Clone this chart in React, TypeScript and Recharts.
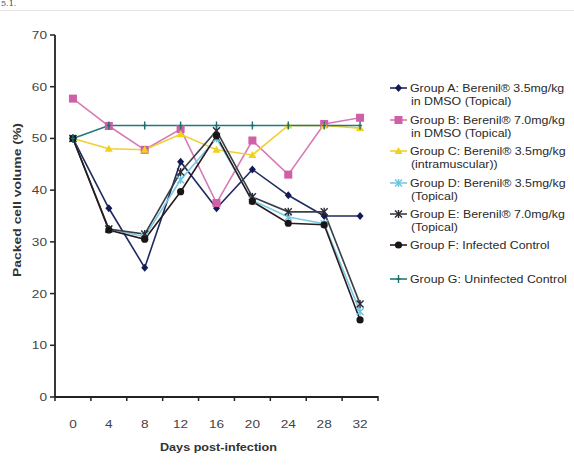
import React from "react";
import { LineChart, Line, XAxis, YAxis } from "recharts";

const days = [0, 4, 8, 12, 16, 20, 24, 28, 32];
const groupA = [50, 36.5, 25, 45.5, 36.5, 44, 39, 35, 35];
const groupB = [57.7, 52.4, 47.8, 51.8, 37.5, 49.6, 43, 52.8, 54];
const groupC = [50, 48, 47.8, 50.8, 47.8, 46.8, 52.5, 52.5, 52];
const groupD = [50, 32.5, 31, 42, 50, 38, 34.8, 33.5, 16.5];
const groupE = [50, 32.5, 31.5, 43.5, 51.5, 38.7, 35.8, 35.8, 18];
const groupF = [50, 32.3, 30.5, 39.7, 50.5, 37.8, 33.6, 33.3, 14.9];
const groupG = [50, 52.5, 52.5, 52.5, 52.5, 52.5, 52.5, 52.5, 52.5];
const yTicks = [0, 10, 20, 30, 40, 50, 60, 70];
const xTicks = [-2, 0, 2, 4, 6, 8, 10, 12, 14, 16, 18, 20, 22, 24, 26, 28, 30, 32, 34];

const seriesNames = [
  ["Group A: Berenil® 3.5mg/kg", "in DMSO (Topical)"],
  ["Group B: Berenil® 7.0mg/kg", "in DMSO (Topical)"],
  ["Group C: Berenil® 3.5mg/kg", "(intramuscular))"],
  ["Group D: Berenil® 3.5mg/kg", "(Topical)"],
  ["Group E: Berenil® 7.0mg/kg", "(Topical)"],
  ["Group F: Infected Control"],
  ["Group G: Uninfected Control"],
];

const data = days.map((d, i) => ({
  day: d,
  A: groupA[i],
  B: groupB[i],
  C: groupC[i],
  D: groupD[i],
  E: groupE[i],
  F: groupF[i],
  G: groupG[i],
}));

type Shape = "diamond" | "square" | "triangle" | "asterisk" | "xstar" | "circle" | "plus";

const series: { key: string; color: string; lineColor: string; shape: Shape }[] = [
  { key: "A", color: "#141a55", lineColor: "#1f2a5e", shape: "diamond" },
  { key: "B", color: "#cf5fa6", lineColor: "#d77ab4", shape: "square" },
  { key: "C", color: "#f0d21a", lineColor: "#efd030", shape: "triangle" },
  { key: "D", color: "#6cc4e0", lineColor: "#7ccbe4", shape: "asterisk" },
  { key: "E", color: "#2a2a33", lineColor: "#3a3f48", shape: "xstar" },
  { key: "F", color: "#1a1416", lineColor: "#2a1a1e", shape: "circle" },
  { key: "G", color: "#1c6f6c", lineColor: "#1f7a78", shape: "plus" },
];

const FONT = "Liberation Sans, Arial, sans-serif";

function Marker({ cx, cy, shape, color }: { cx: number; cy: number; shape: Shape; color: string }) {
  switch (shape) {
    case "diamond":
      return <polygon points={`${cx},${cy - 4} ${cx + 3.5},${cy} ${cx},${cy + 4} ${cx - 3.5},${cy}`} fill={color} />;
    case "square":
      return <rect x={cx - 4} y={cy - 4} width={8} height={8} fill={color} />;
    case "triangle":
      return <polygon points={`${cx},${cy - 4} ${cx + 4},${cy + 3} ${cx - 4},${cy + 3}`} fill={color} />;
    case "asterisk":
    case "xstar":
      return (
        <g stroke={color} strokeWidth={1.4}>
          <line x1={cx - 3.5} y1={cy - 3.5} x2={cx + 3.5} y2={cy + 3.5} />
          <line x1={cx - 3.5} y1={cy + 3.5} x2={cx + 3.5} y2={cy - 3.5} />
          <line x1={cx} y1={cy - 4} x2={cx} y2={cy + 4} />
        </g>
      );
    case "circle":
      return <circle cx={cx} cy={cy} r={3.6} fill={color} />;
    case "plus":
      return (
        <g stroke={color} strokeWidth={1.4}>
          <line x1={cx} y1={cy - 4} x2={cx} y2={cy + 4} />
          <line x1={cx - 2} y1={cy} x2={cx + 2} y2={cy} />
        </g>
      );
  }
  return null;
}

const makeDot = (shape: Shape, color: string) => (props: any) => {
  const { cx, cy, index } = props;
  if (cx == null || cy == null) return <g key={index} />;
  return (
    <g key={`d-${index}`}>
      <Marker cx={cx} cy={cy} shape={shape} color={color} />
    </g>
  );
};

const XTick = (props: any) => {
  const { x, y, payload } = props;
  const v = payload.value;
  if (((v % 4) + 4) % 4 === 2) {
    return <line x1={x} y1={y - 1} x2={x} y2={y + 4} stroke="#222" strokeWidth={1.5} />;
  }
  return (
    <text
      transform={`translate(${x},${y + 31}) scale(1.3,1)`}
      textAnchor="middle"
      fontSize={10.5}
      fill="#444"
      fontFamily={FONT}
    >
      {v}
    </text>
  );
};

const YTick = (props: any) => {
  const { x, y, payload } = props;
  return (
    <text
      transform={`translate(${x},${y + 4}) scale(1.3,1)`}
      textAnchor="end"
      fontSize={10.5}
      fill="#444"
      fontFamily={FONT}
    >
      {payload.value}
    </text>
  );
};

const LegendBox = () => {
  const tops = [88, 120, 151, 183, 214, 245, 279];
  return (
    <svg
      width={574}
      height={466}
      style={{ position: "absolute", left: 0, top: 0, pointerEvents: "none" }}
    >
      {series.map((s, i) => {
        const cy = tops[i];
        return (
          <g key={s.key}>
            <line x1={390} y1={cy} x2={407} y2={cy} stroke={s.lineColor} strokeWidth={1.6} />
            <Marker cx={398.5} cy={cy} shape={s.shape} color={s.color} />
            {seriesNames[i].map((line, j) => (
              <text
                key={j}
                transform={`translate(${j === 0 ? 410 : 411},${cy + 4 + j * 12.5}) scale(1.18,1)`}
                fontSize={10.5}
                fontFamily={FONT}
                fill="#2a2a2a"
              >
                {line}
              </text>
            ))}
          </g>
        );
      })}
    </svg>
  );
};

export default function App() {
  return (
    <div style={{ position: "absolute", left: 0, top: 0, width: 574, height: 466, background: "#ffffff", overflow: "hidden" }}>
      <div
        style={{
          position: "absolute",
          left: 1,
          top: -1,
          fontFamily: "DejaVu Serif, serif",
          fontSize: 8,
          lineHeight: "10px",
          color: "#444",
        }}
      >
        5.1.
      </div>
      <div style={{ position: "absolute", left: 0, top: 10, width: 574, height: 1, background: "#e4e4e4" }} />
      <LineChart
        width={574}
        height={466}
        data={data}
        margin={{ top: 35, right: 196, bottom: 24, left: 15 }}
        style={{ position: "absolute", left: 0, top: 0 }}
      >
        <XAxis
          dataKey="day"
          type="number"
          domain={[-2, 34]}
          ticks={xTicks}
          interval={0}
          tick={<XTick />}
          tickLine={false}
          tickSize={0}
          tickMargin={0}
          height={45}
          axisLine={{ stroke: "#222", strokeWidth: 1.8 }}
          label={() => (
            <text
              x={160}
              y={451}
              textLength={117}
              lengthAdjust="spacingAndGlyphs"
              fontSize={11}
              fontWeight="bold"
              fill="#333"
              fontFamily={FONT}
            >
              Days post-infection
            </text>
          )}
        />
        <YAxis
          type="number"
          domain={[0, 70]}
          ticks={yTicks}
          interval={0}
          width={40}
          tickSize={5}
          tickMargin={3}
          tick={<YTick />}
          tickLine={{ stroke: "#222", strokeWidth: 1.5 }}
          axisLine={{ stroke: "#222", strokeWidth: 1.8 }}
          label={() => (
            <text
              x={21}
              y={277}
              transform="rotate(-90 21 277)"
              textLength={154}
              lengthAdjust="spacingAndGlyphs"
              fontSize={11}
              fontWeight="bold"
              fill="#333"
              fontFamily={FONT}
            >
              Packed cell volume (%)
            </text>
          )}
        />
        {series.map((s) => (
          <Line
            key={s.key}
            dataKey={s.key}
            name={s.key}
            stroke={s.lineColor}
            strokeWidth={1.6}
            dot={makeDot(s.shape, s.color)}
            activeDot={false}
            isAnimationActive={false}
          />
        ))}
      </LineChart>
      <LegendBox />
    </div>
  );
}
